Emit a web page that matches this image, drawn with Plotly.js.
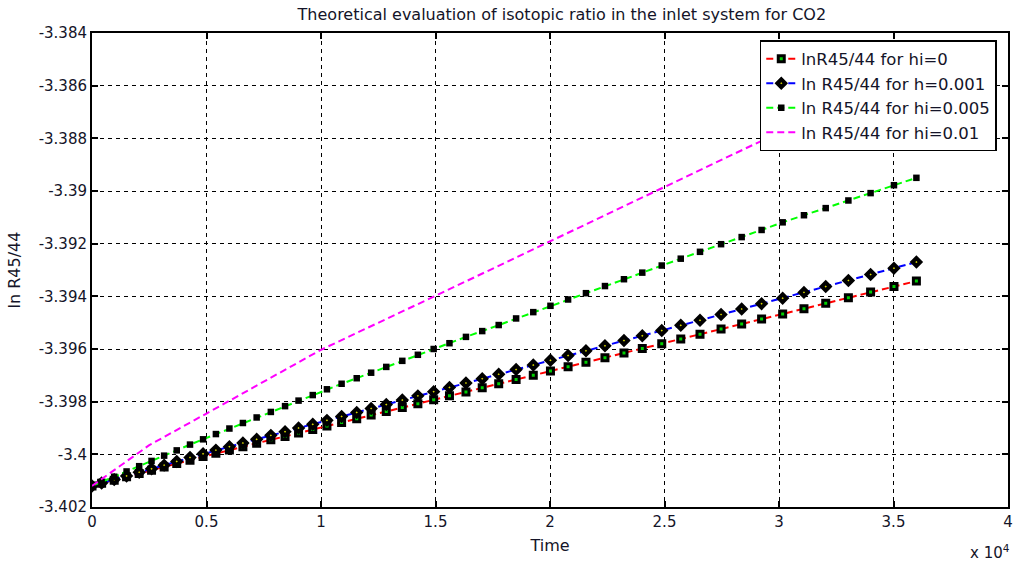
<!DOCTYPE html>
<html>
<head>
<meta charset="utf-8">
<script src="https://cdn.plot.ly/plotly-3.0.1.min.js"></script>
<style>
html,body{margin:0;padding:0;background:#fff;}
#chart{width:1016px;height:571px;}
</style>
</head>
<body>
<div id="chart"></div>
<script>
// Time samples (s) shared by the marked series
const timeS = [0, 420, 970, 1510, 2060, 2600, 3150, 3700, 4280, 4850,
  5410, 6000, 6590, 7190, 7810, 8430, 9020, 9640, 10260, 10900,
  11560, 12190, 12850, 13550, 14230, 14920, 15610, 16330, 17040, 17760,
  18520, 19270, 20020, 20790, 21570, 22400, 23230, 24030, 24880, 25710,
  26550, 27470, 28370, 29240, 30160, 31090, 32040, 33030, 34000, 35020, 36000];

const lnR_hi0 = [-3.40120, -3.40110, -3.40098, -3.40085, -3.40073, -3.40060, -3.40048, -3.40035, -3.40022, -3.40008,
  -3.39996, -3.39984, -3.39971, -3.39958, -3.39945, -3.39932, -3.39919, -3.39906, -3.39892, -3.39879,
  -3.39865, -3.39851, -3.39837, -3.39822, -3.39808, -3.39793, -3.39778, -3.39763, -3.39747, -3.39732,
  -3.39716, -3.39700, -3.39684, -3.39667, -3.39650, -3.39633, -3.39615, -3.39598, -3.39580, -3.39562,
  -3.39544, -3.39524, -3.39505, -3.39486, -3.39467, -3.39447, -3.39426, -3.39405, -3.39384, -3.39363, -3.39342];

const lnR_h0001 = [-3.40120, -3.40109, -3.40096, -3.40082, -3.40068, -3.40055, -3.40041, -3.40027, -3.40012, -3.39998,
  -3.39984, -3.39971, -3.39957, -3.39943, -3.39928, -3.39914, -3.39900, -3.39886, -3.39871, -3.39856,
  -3.39841, -3.39826, -3.39811, -3.39794, -3.39778, -3.39762, -3.39746, -3.39729, -3.39713, -3.39696,
  -3.39678, -3.39661, -3.39643, -3.39625, -3.39607, -3.39588, -3.39568, -3.39550, -3.39530, -3.39510,
  -3.39491, -3.39469, -3.39448, -3.39428, -3.39407, -3.39385, -3.39363, -3.39340, -3.39317, -3.39293, -3.39270];

const lnR_hi0005 = [-3.40120, -3.40105, -3.40085, -3.40065, -3.40045, -3.40025, -3.40005, -3.39985, -3.39963, -3.39943,
  -3.39923, -3.39902, -3.39881, -3.39860, -3.39839, -3.39817, -3.39796, -3.39775, -3.39753, -3.39732,
  -3.39711, -3.39690, -3.39668, -3.39645, -3.39622, -3.39600, -3.39578, -3.39554, -3.39532, -3.39509,
  -3.39484, -3.39460, -3.39436, -3.39412, -3.39388, -3.39361, -3.39335, -3.39310, -3.39283, -3.39257,
  -3.39231, -3.39202, -3.39175, -3.39148, -3.39119, -3.39092, -3.39065, -3.39036, -3.39008, -3.38978, -3.38950];

// Unmarked series (hi=0.01)
const timeS_hi001 = [0, 2500, 5000, 7500, 10000, 15000, 20000, 25000, 30000, 36000];
const lnR_hi001 = [-3.40120, -3.39965, -3.39845, -3.39725, -3.39603, -3.39398, -3.39192, -3.38985, -3.38780, -3.38530];

const seriesNames = ['lnR45/44 for hi=0', 'ln R45/44 for h=0.001', 'ln R45/44 for hi=0.005', 'ln R45/44 for hi=0.01'];

const xTickVals = [0, 5000, 10000, 15000, 20000, 25000, 30000, 35000, 40000];
const xTickText = ['0', '0.5', '1', '1.5', '2', '2.5', '3', '3.5', '4'];
const yTickVals = [-3.402, -3.400, -3.398, -3.396, -3.394, -3.392, -3.390, -3.388, -3.386, -3.384];
const yTickText = ['-3.402', '-3.4', '-3.398', '-3.396', '-3.394', '-3.392', '-3.39', '-3.388', '-3.386', '-3.384'];

const FONT = 'DejaVu Sans, Liberation Sans, Arial, sans-serif';
const TXT = '#141428';
const dashPat = '7px,4px';

const traces = [
  {x: timeS, y: lnR_hi0, name: seriesNames[0], mode: 'lines+markers',
   line: {color: '#ff0000', width: 2, dash: dashPat},
   marker: {symbol: 'square', size: 6, color: '#00d000', line: {color: '#000', width: 3}}},
  {x: timeS, y: lnR_h0001, name: seriesNames[1], mode: 'lines+markers',
   line: {color: '#0000ff', width: 2, dash: dashPat},
   marker: {symbol: 'diamond', size: 6, color: '#d8d800', line: {color: '#000', width: 4}}},
  {x: timeS, y: lnR_hi0005, name: seriesNames[2], mode: 'lines+markers',
   line: {color: '#00ff00', width: 2, dash: dashPat},
   marker: {symbol: 'square', size: 6.5, color: '#000', line: {width: 0}}},
  {x: timeS_hi001, y: lnR_hi001, name: seriesNames[3], mode: 'lines',
   line: {color: '#ff00ff', width: 2, dash: dashPat}}
];

const axisCommon = {
  showline: true, linecolor: '#000', linewidth: 2, mirror: 'ticks',
  ticks: 'inside', ticklen: 6, tickwidth: 2, tickcolor: '#000',
  showgrid: true, gridcolor: '#000', gridwidth: 1, griddash: '4px,4px',
  zeroline: false, tickfont: {family: FONT, size: 15, color: TXT}
};

const layout = {
  width: 1016, height: 571,
  margin: {l: 92, r: 8, t: 33, b: 64},
  paper_bgcolor: '#fff', plot_bgcolor: '#fff',
  font: {family: FONT, color: TXT},
  title: {text: 'Theoretical evaluation of isotopic ratio in the inlet system for CO2',
          font: {family: FONT, size: 16, color: TXT}, x: 0.553, xanchor: 'center', y: 0.985, yanchor: 'top'},
  xaxis: Object.assign({}, axisCommon, {
    range: [0, 40000], tickmode: 'array', tickvals: xTickVals, ticktext: xTickText,
    title: {text: 'Time', font: {family: FONT, size: 16, color: TXT}, standoff: 10}
  }),
  yaxis: Object.assign({}, axisCommon, {
    range: [-3.402, -3.384], tickmode: 'array', tickvals: yTickVals, ticktext: yTickText,
    title: {text: 'ln R45/44', font: {family: FONT, size: 16, color: TXT}, standoff: 14}
  }),
  legend: {x: 0.729, y: 0.985, xanchor: 'left', yanchor: 'top',
           bgcolor: '#fff', bordercolor: '#000', borderwidth: 1.5,
           font: {family: FONT, size: 16.5, color: TXT}},
  annotations: [{xref: 'paper', yref: 'paper', x: 1.004, y: -0.07, xanchor: 'right', yanchor: 'top',
                 text: 'x 10<sup>4</sup>', showarrow: false, font: {family: FONT, size: 15, color: TXT}}]
};

Plotly.newPlot('chart', traces, layout, {staticPlot: true, displayModeBar: false});
</script>
</body>
</html>
